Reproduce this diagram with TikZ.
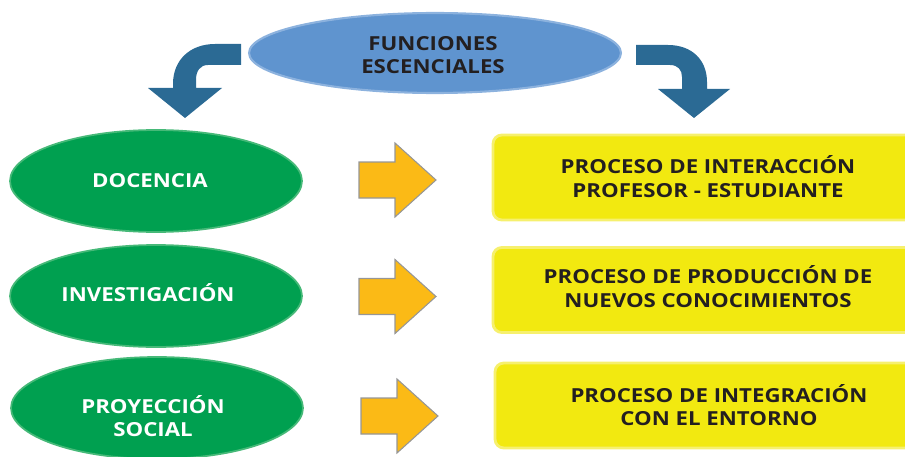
\documentclass[tikz,border=0pt]{standalone}
\usepackage{fontspec}
\setmainfont{Open Sans}[FakeStretch=1.15]
\usetikzlibrary{shapes.geometric}
\definecolor{arrblue}{RGB}{43,106,148}
\definecolor{topblue}{RGB}{95,148,207}
\definecolor{topedge}{RGB}{140,178,222}
\definecolor{grn}{RGB}{0,160,80}
\definecolor{grnedge}{RGB}{70,185,120}
\definecolor{yarrfill}{RGB}{251,186,22}
\definecolor{yarredge}{RGB}{150,150,150}
\definecolor{ybox}{RGB}{242,233,16}
\definecolor{yboxedge}{RGB}{246,240,110}
\definecolor{txt}{RGB}{35,31,32}
\tikzset{
  lbl/.style={font=\bfseries\fontsize{11}{13.4}\selectfont, align=center, inner sep=0pt},
  darklbl/.style={lbl, text=txt},
  whitelbl/.style={lbl, text=white},
  topell/.style={ellipse, fill=topblue, draw=topedge, line width=1.2pt, minimum width=7.44cm, minimum height=1.6cm, inner sep=0pt},
  grnell/.style={ellipse, fill=grn, draw=grnedge, line width=1pt, minimum width=5.84cm, minimum height=2.04cm, inner sep=0pt},
  procbox/.style={rectangle, rounded corners=5pt, fill=ybox, draw=yboxedge, line width=1.6pt, minimum width=8.44cm, minimum height=1.7cm, inner sep=0pt},
  bluearr/.style={fill=arrblue},
  yarr/.pic={\draw[fill=yarrfill, draw=yarredge, line width=0.6pt]
    (0,-18) -- (36,-18) -- (36,-37) -- (77,0) -- (36,37) -- (36,18) -- (0,18) -- cycle;}
}
\begin{document}
\begin{tikzpicture}[x=0.02cm, y=-0.02cm]
\useasboundingbox (0,0) rectangle (905,456);
\clip (0,0) rectangle (905,456);

% top ellipse
\node[topell] (top) at (435,53) {};
\node[darklbl] (toptxt) at (433,55) {FUNCIONES\\ESCENCIALES};

% blue curved arrows
\path[bluearr] (241,44) -- (215,44) .. controls (190,44) and (173,60) .. (173,84) -- (173,88)
  -- (148,88) -- (185,118) -- (222,88) -- (196,88) -- (196,80)
  .. controls (196,71) and (200,65) .. (208,65) -- (241,65) -- cycle;
\path[bluearr] (636,45) -- (668,45) .. controls (692,45) and (707,60) .. (707,82) -- (707,89)
  -- (730,89) -- (694,118) -- (658,89) -- (682,89) -- (682,77)
  .. controls (682,70) and (678,65) .. (670,65) -- (636,65) -- cycle;

% green ellipses
\node[grnell] (doc) at (156,181) {};
\node[whitelbl] (doctxt) at (150,181) {DOCENCIA};
\node[grnell] (inv) at (156,296) {};
\node[whitelbl] (invtxt) at (148,293) {INVESTIGACIÓN};
\node[grnell] (pro) at (157,408) {};
\node[whitelbl] (protxt) at (153,416) {PROYECCIÓN\\SOCIAL};

% yellow arrows
\pic at (359,180) {yarr};
\pic at (359,296.5) {yarr};
\pic at (361,416) {yarr};

% process boxes
\node[procbox] (b1) at (704,177.5) {};
\node[darklbl] (b1txt) at (708,176.5) {PROCESO DE INTERACCIÓN\\PROFESOR - ESTUDIANTE};
\node[procbox] (b2) at (704,290) {};
\node[darklbl] (b2txt) at (708,286.5) {PROCESO DE PRODUCCIÓN DE\\NUEVOS CONOCIMIENTOS};
\node[procbox] (b3) at (706,405.5) {};
\node[darklbl] (b3txt) at (719,405) {PROCESO DE INTEGRACIÓN\\CON EL ENTORNO};
\end{tikzpicture}
\end{document}
